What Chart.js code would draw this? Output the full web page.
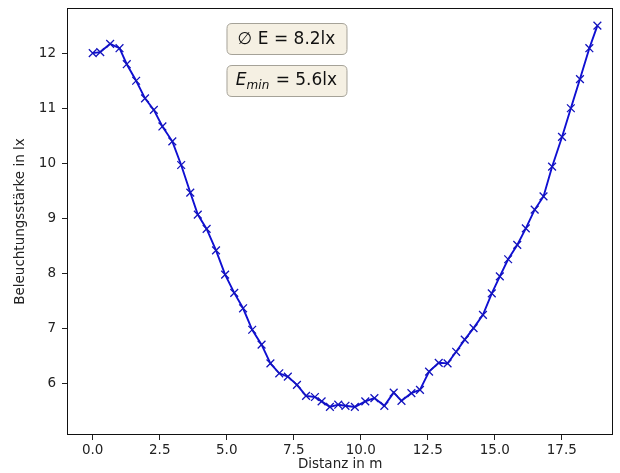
<!DOCTYPE html>
<html>
<head>
<meta charset="utf-8">
<script src="https://cdn.jsdelivr.net/npm/chart.js@4/dist/chart.umd.min.js"></script>
<style>
  html, body { margin: 0; padding: 0; background: #fff; }
  #wrap { width: 620px; height: 473px; position: relative; }
</style>
</head>
<body>
<div id="wrap"><canvas id="c" width="620" height="473"></canvas></div>
<script>
const distances = [0.00,0.28,0.65,1.00,1.27,1.62,1.95,2.28,2.60,2.97,3.30,3.64,3.92,4.25,4.60,4.94,5.28,5.61,5.95,6.30,6.63,6.96,7.28,7.62,7.96,8.29,8.54,8.85,9.16,9.43,9.78,10.17,10.51,10.88,11.23,11.52,11.89,12.21,12.55,12.91,13.24,13.56,13.88,14.21,14.56,14.89,15.19,15.50,15.84,16.16,16.49,16.82,17.14,17.51,17.84,18.18,18.53,18.83];
const illuminance = [12.00,12.02,12.17,12.09,11.80,11.50,11.18,10.97,10.67,10.40,9.97,9.47,9.07,8.81,8.42,7.98,7.65,7.37,6.98,6.71,6.37,6.19,6.13,5.98,5.78,5.76,5.68,5.58,5.62,5.60,5.58,5.68,5.74,5.60,5.84,5.69,5.83,5.89,6.22,6.38,6.37,6.58,6.80,7.01,7.25,7.64,7.95,8.26,8.52,8.82,9.16,9.40,9.94,10.48,11.00,11.53,12.09,12.50];
const xTicks = [0, 2.5, 5, 7.5, 10, 12.5, 15, 17.5];
const yTicks = [6, 7, 8, 9, 10, 11, 12];
const meanValue = 8.2;
const minValue = 5.6;
const xTitle = 'Distanz in m';
const yTitle = 'Beleuchtungsstärke in lx';

const FONT = "'DejaVu Sans', sans-serif";

const framePlugin = {
  id: 'frame',
  afterDraw(chart) {
    const { ctx, chartArea: a } = chart;
    ctx.save();
    ctx.strokeStyle = '#111';
    ctx.lineWidth = 1;
    ctx.strokeRect(Math.round(a.left) + 0.5, Math.round(a.top) + 0.5,
      Math.round(a.right - a.left) - 1, Math.round(a.bottom - a.top) - 1);

    // annotation boxes
    const w = a.right - a.left, h = a.bottom - a.top;
    const bx = a.left + 0.292 * w;
    const bw = 120, bh = 31;
    const tops = [a.top + 0.035 * h, a.top + 0.133 * h];
    function roundBox(x, y, ww, hh, r) {
      ctx.beginPath();
      ctx.moveTo(x + r, y);
      ctx.lineTo(x + ww - r, y);
      ctx.quadraticCurveTo(x + ww, y, x + ww, y + r);
      ctx.lineTo(x + ww, y + hh - r);
      ctx.quadraticCurveTo(x + ww, y + hh, x + ww - r, y + hh);
      ctx.lineTo(x + r, y + hh);
      ctx.quadraticCurveTo(x, y + hh, x, y + hh - r);
      ctx.lineTo(x, y + r);
      ctx.quadraticCurveTo(x, y, x + r, y);
      ctx.closePath();
      ctx.fillStyle = 'rgb(245,240,227)';
      ctx.fill();
      ctx.strokeStyle = 'rgb(165,162,152)';
      ctx.lineWidth = 1;
      ctx.stroke();
    }
    tops.forEach(t => roundBox(bx + 0.5, Math.round(t) + 0.5, bw, bh, 5));

    ctx.fillStyle = '#111';
    ctx.textBaseline = 'alphabetic';
    // box 1
    ctx.font = '17px ' + FONT;
    const t1 = '\u2205 E = ' + meanValue.toFixed(1) + 'lx';
    const w1 = ctx.measureText(t1).width;
    ctx.fillText(t1, bx + (bw - w1) / 2, tops[0] + bh / 2 + 6);
    // box 2: E_min = 5.6lx
    const pE = 'E', pSub = 'min', pRest = ' = ' + minValue.toFixed(1) + 'lx';
    ctx.font = 'italic 17px ' + FONT;
    const wE = ctx.measureText(pE).width;
    ctx.font = 'italic 12px ' + FONT;
    const wS = ctx.measureText(pSub).width;
    ctx.font = '17px ' + FONT;
    const wR = ctx.measureText(pRest).width;
    const total = wE + wS + wR + 1;
    let x = bx + (bw - total) / 2;
    const base = tops[1] + bh / 2 + 5;
    ctx.font = 'italic 17px ' + FONT;
    ctx.fillText(pE, x, base); x += wE;
    ctx.font = 'italic 12px ' + FONT;
    ctx.fillText(pSub, x, base + 4); x += wS + 1;
    ctx.font = '17px ' + FONT;
    ctx.fillText(pRest, x, base);
    ctx.restore();
  }
};

new Chart(document.getElementById('c'), {
  type: 'line',
  data: {
    datasets: [{
      data: distances.map((d, i) => ({ x: d, y: illuminance[i] })),
      borderColor: 'rgb(15,15,210)',
      borderWidth: 1.9,
      pointStyle: 'crossRot',
      pointRadius: 5.5,
      pointHoverRadius: 5.5,
      pointBorderWidth: 1.3,
      pointBorderColor: 'rgb(20,20,190)',
      pointBackgroundColor: 'rgb(20,20,190)',
      tension: 0,
      fill: false
    }]
  },
  options: {
    responsive: false,
    animation: false,
    events: [],
    layout: { padding: { top: 8, right: 2, left: 0, bottom: 0 } },
    plugins: { legend: { display: false }, tooltip: { enabled: false }, title: { display: false } },
    scales: {
      x: {
        type: 'linear',
        min: -0.96,
        max: 19.42,
        afterBuildTicks: s => { s.ticks = xTicks.map(v => ({ value: v })); },
        afterFit: s => { s.height = 38; s.paddingLeft = 0; s.paddingRight = 0; },
        border: { display: false },
        grid: { display: true, drawOnChartArea: false, drawTicks: true, tickLength: 5, color: '#222', lineWidth: 1 },
        ticks: { color: '#222', font: { family: FONT, size: 13.5 }, padding: 2, maxRotation: 0, autoSkip: false,
          callback: v => Number(v).toFixed(1) },
        title: { display: true, text: xTitle, color: '#222', font: { family: FONT, size: 13.5 }, padding: { top: 0, bottom: 0 } }
      },
      y: {
        type: 'linear',
        min: 5.07,
        max: 12.82,
        afterBuildTicks: s => { s.ticks = yTicks.map(v => ({ value: v })); },
        afterFit: s => { s.width = 67; s.paddingTop = 0; s.paddingBottom = 0; },
        border: { display: false },
        grid: { display: true, drawOnChartArea: false, drawTicks: true, tickLength: 5, color: '#222', lineWidth: 1 },
        ticks: { color: '#222', font: { family: FONT, size: 13.5 }, padding: 6, autoSkip: false,
          callback: v => String(v) },
        title: { display: true, text: yTitle, color: '#222', font: { family: FONT, size: 13.5 }, padding: { top: 12, bottom: 0 } }
      }
    }
  },
  plugins: [framePlugin]
});
</script>
</body>
</html>
